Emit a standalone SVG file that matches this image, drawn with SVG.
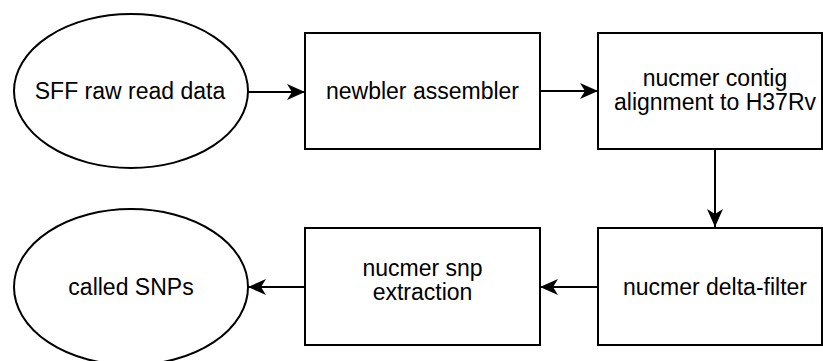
<svg xmlns="http://www.w3.org/2000/svg" width="823" height="361" viewBox="0 0 823 361">
  <style>
    .shape { fill: #ffffff; stroke: #000000; stroke-width: 2; }
    .edge { fill: none; stroke: #000000; stroke-width: 2; }
    .label { font-family: "Liberation Sans", Arial, sans-serif; font-size: 23px; fill: #000000; text-anchor: middle; }
  </style>
  <defs>
    <marker id="arrow" markerUnits="userSpaceOnUse" markerWidth="18" markerHeight="16" refX="18" refY="8" orient="auto">
      <path d="M0,0 L18,8 L0,16 L5,8 Z" fill="#000000"/>
    </marker>
  </defs>

  <rect width="823" height="361" fill="#ffffff"/>

  <g id="connectors">
    <line class="edge" x1="248" y1="92" x2="305" y2="92" marker-end="url(#arrow)"/>
    <line class="edge" x1="540" y1="91" x2="598" y2="91" marker-end="url(#arrow)"/>
    <line class="edge" x1="715" y1="149" x2="715" y2="227" marker-end="url(#arrow)"/>
    <line class="edge" x1="598" y1="287" x2="540" y2="287" marker-end="url(#arrow)"/>
    <line class="edge" x1="305" y1="287" x2="248" y2="287" marker-end="url(#arrow)"/>
  </g>

  <g id="sff-raw-read-data">
    <ellipse class="shape" cx="131" cy="91" rx="117" ry="77"/>
    <text class="label" x="130" y="99">SFF raw read data</text>
  </g>

  <g id="newbler-assembler">
    <rect class="shape" x="305" y="33" width="235" height="116"/>
    <text class="label" x="422.5" y="99">newbler assembler</text>
  </g>

  <g id="nucmer-contig-alignment">
    <rect class="shape" x="598" y="33" width="224" height="116"/>
    <text class="label" x="715" y="86">nucmer contig</text>
    <text class="label" x="715" y="110">alignment to H37Rv</text>
  </g>

  <g id="nucmer-delta-filter">
    <rect class="shape" x="598" y="228" width="224" height="117"/>
    <text class="label" x="715" y="295">nucmer delta-filter</text>
  </g>

  <g id="nucmer-snp-extraction">
    <rect class="shape" x="305" y="228" width="235" height="117"/>
    <text class="label" x="422.5" y="276">nucmer snp</text>
    <text class="label" x="422.5" y="300">extraction</text>
  </g>

  <g id="called-snps">
    <ellipse class="shape" cx="131" cy="287" rx="117" ry="78"/>
    <text class="label" x="131" y="295">called SNPs</text>
  </g>
</svg>
